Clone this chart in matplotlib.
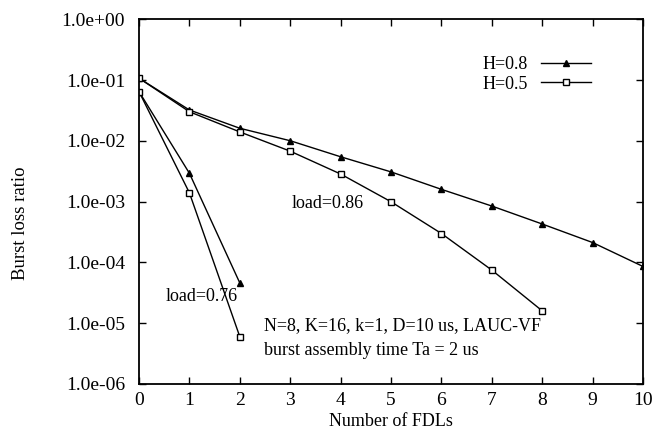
import matplotlib
matplotlib.use("Agg")
import matplotlib.pyplot as plt
from matplotlib.ticker import FixedLocator, FuncFormatter, NullLocator

plt.rcParams["font.family"] = ["Liberation Serif", "DejaVu Serif"]

# Burst loss ratio vs number of FDLs
fdl_086 = [0, 1, 2, 3, 4, 5, 6, 7, 8, 9, 10]
h08_load086 = [0.108, 0.0324, 0.0162, 0.0101, 0.0055, 0.0031, 0.0016, 0.00085, 0.00043, 0.000213, 8.6e-5]
fdl_086_h05 = [0, 1, 2, 3, 4, 5, 6, 7, 8]
h05_load086 = [0.108, 0.0303, 0.0141, 0.0068, 0.00286, 0.00100, 0.00030, 7.5e-5, 1.6e-5]

fdl_076 = [0, 1, 2]
h08_load076 = [0.065, 0.00294, 4.6e-5]
h05_load076 = [0.065, 0.0014, 6.0e-6]

y_ticks = [1e0, 1e-1, 1e-2, 1e-3, 1e-4, 1e-5, 1e-6]
x_ticks = list(range(11))


def plot_loss():
    fig = plt.figure(figsize=(6.57, 4.38), dpi=100)
    ax = fig.add_axes([0.2116, 0.1233, 0.7671, 0.8322])

    tri = dict(color="black", lw=1.0, marker="^", ms=4.5, mfc="black", mec="black")
    sq = dict(color="black", lw=1.0, marker="s", ms=5, mfc="white", mec="black", mew=1.0)

    ax.plot(fdl_086, h08_load086, label="H=0.8", **tri)
    ax.plot(fdl_086_h05, h05_load086, label="H=0.5", **sq)
    ax.plot(fdl_076, h08_load076, **tri)
    ax.plot(fdl_076, h05_load076, **sq)

    ax.set_yscale("log")
    ax.set_xlim(0, 10)
    ax.set_ylim(1e-6, 1e0)
    ax.xaxis.set_major_locator(FixedLocator(x_ticks))
    ax.yaxis.set_major_locator(FixedLocator(y_ticks))
    ax.yaxis.set_minor_locator(NullLocator())
    ax.yaxis.set_major_formatter(FuncFormatter(lambda v, p: "%.1e" % v))

    ax.tick_params(direction="in", top=True, right=True, length=5, width=1.0, labelsize=14)
    ax.tick_params(axis="x", pad=6)
    ax.tick_params(axis="y", pad=10)
    for s in ax.spines.values():
        s.set_linewidth(1.3)

    ax.set_xlabel("Number of FDLs", fontsize=13, va="center")
    ax.xaxis.set_label_coords(0.5, -0.104)
    ax.set_ylabel("Burst loss ratio", fontsize=13.5, va="center")
    ax.yaxis.set_label_coords(-0.236, 0.44)

    ax.text(3.02, 9.2e-4, "load=0.86", fontsize=13, va="center")
    ax.text(0.52, 2.75e-5, "load=0.76", fontsize=13, va="center")
    ax.text(2.48, 9.3e-6, "N=8, K=16, k=1, D=10 us, LAUC-VF", fontsize=13, va="center")
    ax.text(2.48, 3.6e-6, "burst assembly time Ta = 2 us", fontsize=13, va="center")

    ax.legend(loc="upper right", bbox_to_anchor=(0.915, 0.925), frameon=False,
              markerfirst=False, fontsize=13, handlelength=2.8,
              labelspacing=0.15, borderpad=0, handletextpad=0.7)

    fig.savefig("out.png", dpi=100)


if __name__ == "__main__":
    plot_loss()
